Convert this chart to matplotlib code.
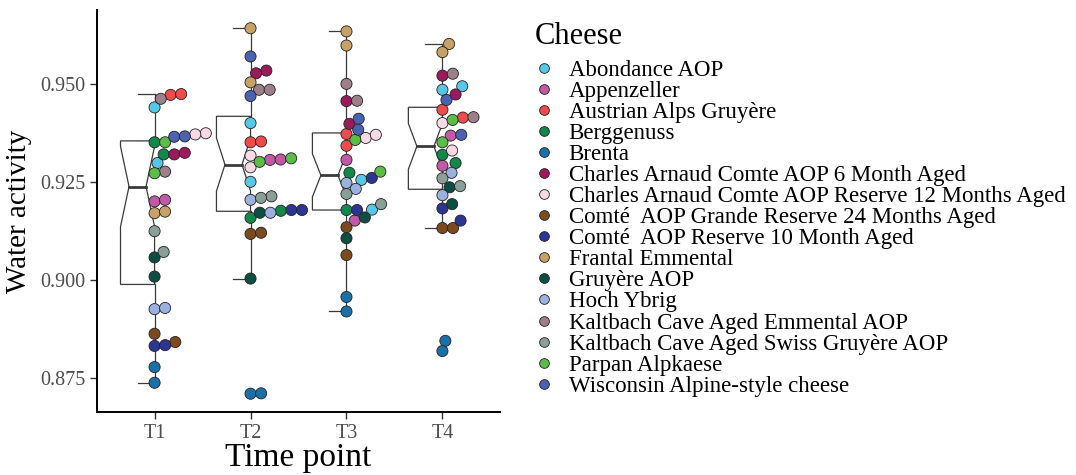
import numpy as np
import matplotlib.pyplot as plt
from matplotlib.lines import Line2D
from matplotlib.patches import Polygon

plt.rcParams['font.family'] = ['Liberation Serif', 'DejaVu Serif']

cheeses = [
    "Abondance AOP",
    "Appenzeller",
    "Austrian Alps Gruyère",
    "Berggenuss",
    "Brenta",
    "Charles Arnaud Comte AOP 6 Month Aged",
    "Charles Arnaud Comte AOP Reserve 12 Months Aged",
    "Comté  AOP Grande Reserve 24 Months Aged",
    "Comté  AOP Reserve 10 Month Aged",
    "Frantal Emmental",
    "Gruyère AOP",
    "Hoch Ybrig",
    "Kaltbach Cave Aged Emmental AOP",
    "Kaltbach Cave Aged Swiss Gruyère AOP",
    "Parpan Alpkaese",
    "Wisconsin Alpine-style cheese",
]
cheese_colors = [
    "#56c7e6", "#c159a6", "#ee4c4a", "#10894a", "#1b70a8", "#9c1a5b",
    "#f9d9e5", "#7b4a1f", "#2c3592", "#c6a266", "#0d4e42", "#9bb1e0",
    "#9b8089", "#8a9f98", "#5bbd48", "#4a62b0",
]
time_points = ["T1", "T2", "T3", "T4"]

# two readings per cheese, same order as `cheeses`
aw_t1 = [(0.9440, 0.9298), (0.9200, 0.9204), (0.9472, 0.9474), (0.9351, 0.9320),
         (0.8777, 0.8737), (0.9320, 0.9324), (0.9374, 0.9371), (0.8862, 0.8841),
         (0.8831, 0.8833), (0.9170, 0.9174), (0.9057, 0.9008), (0.8925, 0.8928),
         (0.9462, 0.9276), (0.9124, 0.9071), (0.9351, 0.9272), (0.9365, 0.9366)]
aw_t2 = [(0.9400, 0.9250), (0.9306, 0.9307), (0.9351, 0.9353), (0.9176, 0.9158),
         (0.8709, 0.8710), (0.9534, 0.9527), (0.9317, 0.9287), (0.9117, 0.9120),
         (0.9178, 0.9178), (0.9642, 0.9504), (0.9171, 0.9003), (0.9204, 0.9171),
         (0.9485, 0.9485), (0.9213, 0.9209), (0.9301, 0.9310), (0.9570, 0.9469)]
aw_t3 = [(0.9255, 0.9179), (0.9306, 0.9151), (0.9372, 0.9342), (0.9273, 0.9178),
         (0.8956, 0.8919), (0.9456, 0.9398), (0.9362, 0.9370), (0.9134, 0.9063),
         (0.9178, 0.9260), (0.9634, 0.9598), (0.9159, 0.9106), (0.9247, 0.9232),
         (0.9500, 0.9457), (0.9219, 0.9193), (0.9357, 0.9276), (0.9411, 0.9383)]
aw_t4 = [(0.9494, 0.9485), (0.9368, 0.9291), (0.9434, 0.9414), (0.9319, 0.9298),
         (0.8844, 0.8818), (0.9521, 0.9473), (0.9400, 0.9330), (0.9132, 0.9132),
         (0.9182, 0.9151), (0.9602, 0.9581), (0.9236, 0.9193), (0.9273, 0.9216),
         (0.9526, 0.9415), (0.9259, 0.9239), (0.9408, 0.9351), (0.9459, 0.9370)]
groups = [aw_t1, aw_t2, aw_t3, aw_t4]

W, H = 1076, 475
fig = plt.figure(figsize=(W / 100, H / 100), dpi=100)
ax_box = [97 / W, 1 - 412 / H, (500 - 97) / W, (412 - 10) / H]
ax = fig.add_axes(ax_box)

allv = np.concatenate([np.ravel(g) for g in groups])
pad = 0.05 * (allv.max() - allv.min())
ylim = (allv.min() - pad, allv.max() + pad)
xlim = (0.4, len(groups) + 0.6)
ax.set_xlim(*xlim)
ax.set_ylim(*ylim)

# pixels per data unit, used for the swarm layout
sx = ax_box[2] * W / (xlim[1] - xlim[0])
sy = ax_box[3] * H / (ylim[1] - ylim[0])


def swarm(y, diam):
    # place points bottom-up, pushing right until they stop overlapping
    off = np.zeros(len(y))
    placed = []
    for i in np.argsort(y, kind="stable"):
        cands = [0.0]
        for j in placed:
            dy = y[i] - y[j]
            if abs(dy) < diam:
                dx = np.sqrt(diam ** 2 - dy ** 2)
                cands += [off[j] + dx, off[j] - dx]
        for c in sorted(c for c in cands if c >= 0):
            if all((c - off[j]) ** 2 + (y[i] - y[j]) ** 2 >= diam ** 2 - 1e-6 for j in placed):
                off[i] = c
                break
        placed.append(i)
    return off


box_w = 0.355
line_c = "#3a3a3a"
for k, g in enumerate(groups):
    c = k + 1
    v = np.ravel(g)
    q1, med, q3 = np.percentile(v, [25, 50, 75])
    iqr = q3 - q1
    lo = v[v >= q1 - 1.5 * iqr].min()
    hi = v[v <= q3 + 1.5 * iqr].max()
    nh = 1.58 * iqr / np.sqrt(len(v))
    xl, xr = c - box_w, c
    ind = 0.25 * box_w
    pts = [(xl, q3), (xl, med + nh), (xl + ind, med), (xl, med - nh), (xl, q1),
           (xr, q1), (xr, med - nh), (xr - ind, med), (xr, med + nh), (xr, q3)]
    ax.add_patch(Polygon(pts, closed=True, fill=False, ec=line_c, lw=0.9, zorder=2))
    ax.plot([xl + ind, xr - ind], [med, med], color=line_c, lw=2.0, zorder=2)
    ax.plot([c, c], [q3, hi], color=line_c, lw=0.9, zorder=2)
    ax.plot([c, c], [q1, lo], color=line_c, lw=0.9, zorder=2)
    for w in (lo, hi):
        ax.plot([c - box_w / 2, c], [w, w], color=line_c, lw=0.9, zorder=2)

    cols = np.repeat(cheese_colors, 2)
    off = swarm(v * sy, 10.6) / sx
    ax.scatter(c + off, v, s=64, c=cols, edgecolors="#222222", linewidths=0.6, zorder=3)

ax.set_xticks(range(1, len(groups) + 1))
ax.set_xticklabels(time_points)
ax.set_yticks([0.875, 0.900, 0.925, 0.950])
ax.set_yticklabels(["0.875", "0.900", "0.925", "0.950"])
ax.tick_params(labelsize=14.5, labelcolor="#4d4d4d", length=5, width=1, color="#333333")
for s in ("top", "right"):
    ax.spines[s].set_visible(False)
for s in ("left", "bottom"):
    ax.spines[s].set_linewidth(1.4)
ax.set_xlabel("Time point", fontsize=24, labelpad=0)
ax.set_ylabel("Water activity", fontsize=21, labelpad=6)

fig.text(535 / W, 1 - 36 / H, "Cheese", fontsize=22, va="center", ha="left")
handles = [Line2D([], [], ls="", marker="o", markersize=7, markerfacecolor=col,
                  markeredgecolor="#222222", markeredgewidth=0.6) for col in cheese_colors]
leg = fig.legend(handles, cheeses, loc="upper left", bbox_to_anchor=(533 / W, 1 - 60 / H),
                 frameon=False, fontsize=16.5, labelspacing=0.0, handletextpad=0.55,
                 handlelength=1.0, borderaxespad=0, borderpad=0)

fig.savefig("out.png", dpi=100)
